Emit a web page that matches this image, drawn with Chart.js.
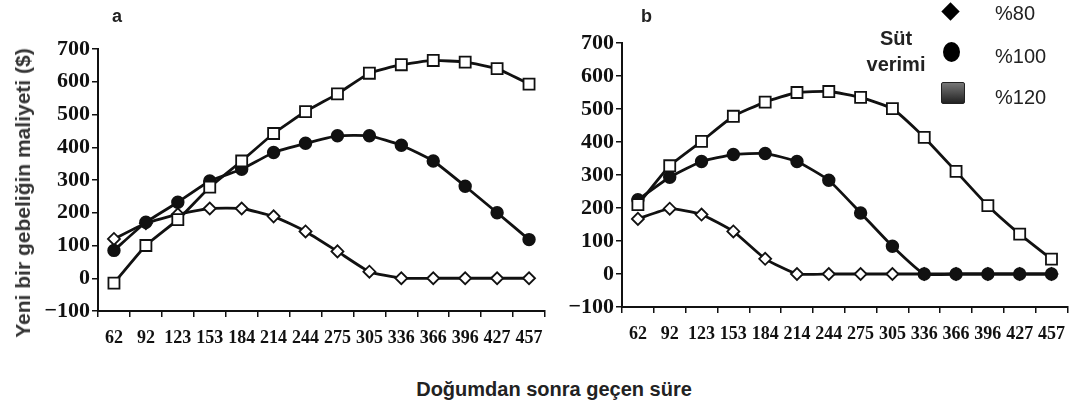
<!DOCTYPE html>
<html>
<head>
<meta charset="utf-8">
<script src="https://cdn.jsdelivr.net/npm/chart.js@4/dist/chart.umd.min.js"></script>
<style>
  body { margin: 0; background: #fff; }
  #contenedor { position: relative; width: 1077px; height: 405px; overflow: hidden; font-family: "Liberation Sans", Arial, sans-serif; }
  .lienzo { position: absolute; top: 0; }
  .txt { position: absolute; white-space: nowrap; color: #222; }
</style>
</head>
<body>
<div id="contenedor">
  <div class="lienzo" style="left:0;width:560px;height:360px"><canvas id="graficoA"></canvas></div>
  <div class="lienzo" style="left:560px;width:517px;height:360px"><canvas id="graficoB"></canvas></div>

  <div class="txt" style="left:112px;top:6px;font-weight:bold;font-size:18px">a</div>
  <div class="txt" style="left:641px;top:6px;font-weight:bold;font-size:18px">b</div>

  <!-- titulo eje y, rotado -->
  <div class="txt" style="left:23px;top:193px;transform:translate(-50%,-50%) rotate(-90deg);font-weight:bold;font-size:21px;color:#333">Yeni bir gebeliğin maliyeti ($)</div>
  <div class="txt" style="left:554px;top:389px;transform:translate(-50%,-50%);font-weight:bold;font-size:20px">Doğumdan sonra geçen süre</div>

  <!-- leyenda -->
  <div class="txt" style="left:896px;top:38px;transform:translate(-50%,-50%);font-weight:bold;font-size:20px">Süt</div>
  <div class="txt" style="left:896px;top:64px;transform:translate(-50%,-50%);font-weight:bold;font-size:20px">verimi</div>
  <div style="position:absolute;left:944px;top:5px;width:13px;height:13px;background:#000;transform:rotate(45deg)"></div>
  <div style="position:absolute;left:943px;top:42px;width:17px;height:20px;background:#000;border-radius:50%"></div>
  <div style="position:absolute;left:941px;top:82px;width:22px;height:20px;background:linear-gradient(#777,#222);border:1px solid #222;border-radius:2px"></div>
  <div class="txt" style="left:995px;top:13px;transform:translateY(-50%);font-size:20px">%80</div>
  <div class="txt" style="left:995px;top:56px;transform:translateY(-50%);font-size:20px">%100</div>
  <div class="txt" style="left:995px;top:97px;transform:translateY(-50%);font-size:20px">%120</div>
</div>

<script>
// dias despues del parto
const gunler = ['62', '92', '123', '153', '184', '214', '244', '275', '305', '336', '366', '396', '427', '457']

// panel a
const a80 = [120, 168, 195, 213, 213, 189, 143, 82, 20, 0, 0, 0, 0, 0]
const a100 = [85, 171, 232, 297, 333, 384, 412, 435, 435, 406, 358, 281, 200, 118]
const a120 = [-15, 100, 179, 278, 358, 442, 509, 563, 626, 652, 665, 660, 640, 593]

// panel b
const b80 = [167, 198, 180, 129, 46, 0, 0, 0, 0, 0, 0, 0, 0, 0]
const b100 = [225, 293, 341, 362, 365, 341, 284, 185, 84, 0, 0, 0, 0, 0]
const b120 = [210, 328, 402, 478, 521, 550, 553, 535, 501, 414, 311, 207, 121, 45]

const yMin = -100
const yMax = 700
const yPaso = 100

const fuenteEjes = "'Liberation Serif', 'DejaVu Serif', serif"

const serie = (etiqueta, datos, estilo, radio, relleno) => ({
  label: etiqueta,
  data: datos,
  borderColor: '#111',
  borderWidth: 2.8,
  tension: 0.15,
  pointStyle: estilo,
  pointRadius: radio,
  pointBackgroundColor: relleno,
  pointBorderColor: '#111',
  pointBorderWidth: 1.8,
  clip: false
})

const crearGrafico = (id, d80, d100, d120, anchoY, altoX, pad) => {
  new Chart(document.getElementById(id), {
    type: 'line',
    data: {
      labels: gunler,
      datasets: [ // el primero se dibuja encima
        serie('%120', d120, 'rect', 7.8, '#fff'),
        serie('%100', d100, 'circle', 5.8, '#111'),
        serie('%80', d80, 'rectRot', 6, '#fff')
      ]
    },
    options: {
      responsive: true,
      maintainAspectRatio: false,
      animation: false,
      layout: { padding: pad },
      plugins: { legend: { display: false }, tooltip: { enabled: false } },
      scales: {
        x: {
          offset: true,
          grid: { offset: true, drawOnChartArea: false, tickLength: 6, color: '#111', lineWidth: 1.5 },
          border: { color: '#111', width: 2 },
          ticks: { color: '#111', padding: 11, maxRotation: 0, autoSkip: false, font: { family: fuenteEjes, weight: 'bold', size: 18 } },
          afterFit: (escala) => { escala.height = altoX }
        },
        y: {
          min: yMin,
          max: yMax,
          grid: { drawOnChartArea: false, tickLength: 6, color: '#111', lineWidth: 1.5 },
          border: { color: '#111', width: 2 },
          ticks: {
            stepSize: yPaso,
            color: '#111',
            padding: 2,
            font: { family: fuenteEjes, weight: 'bold', size: 22 },
            callback: (v) => v < 0 ? '−' + Math.abs(v) : v
          },
          afterFit: (escala) => { escala.width = anchoY }
        }
      }
    }
  })
}

crearGrafico('graficoA', a80, a100, a120, 98, 49, { top: 49, right: 15, bottom: 0, left: 0 })
crearGrafico('graficoB', b80, b100, b120, 62, 53, { top: 43, right: 7, bottom: 0, left: 0 })
</script>
</body>
</html>
